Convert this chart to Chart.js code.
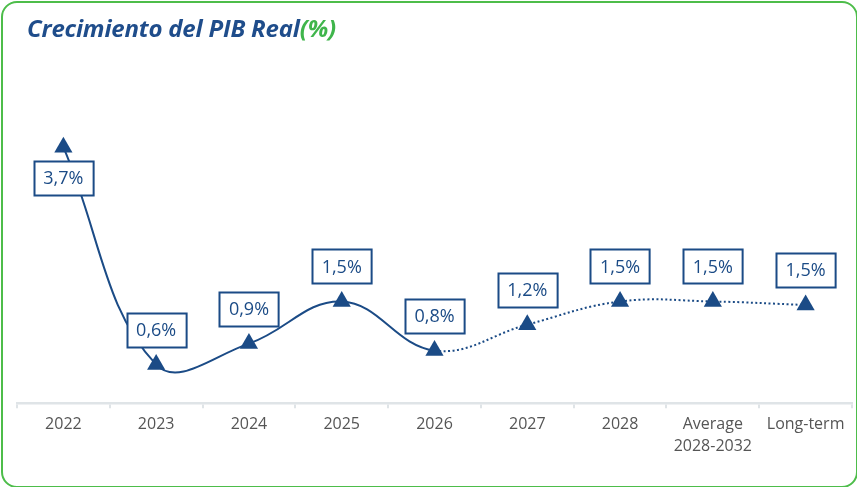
<!DOCTYPE html>
<html>
<head>
<meta charset="utf-8">
<script src="https://cdn.jsdelivr.net/npm/chart.js@4.4.1/dist/chart.umd.min.js"></script>
<style>
  html, body { margin: 0; padding: 0; background: #fff; }
  #card {
    position: absolute; left: 1px; top: 1px; width: 853px; height: 483px;
    border: 2px solid #4dbd4a; border-radius: 16px; background: #fff;
  }
  #title {
    position: absolute; left: 27px; top: 16px; line-height: 24px;
    font-family: "Open Sans", sans-serif; font-weight: 700; font-style: italic; font-size: 24px;
    color: #1f4d8b; white-space: nowrap; letter-spacing: -0.2px;
  }
  #title span { color: #3fb54b; }
  #wrap { position: absolute; left: 0; top: 0; width: 857px; height: 487px; }
</style>
</head>
<body>
<div id="card"></div>
<div id="wrap"><canvas id="c" width="857" height="487"></canvas></div>
<div id="title">Crecimiento del PIB Real<span>(%)</span></div>
<script>
const categories = ['2022', '2023', '2024', '2025', '2026', '2027', '2028', ['Average', '2028-2032'], 'Long-term'];
const growth = [3.7, 0.6, 0.9, 1.5, 0.8, 1.17, 1.5, 1.5, 1.45];
const valueLabels = ['3,7%', '0,6%', '0,9%', '1,5%', '0,8%', '1,2%', '1,5%', '1,5%', '1,5%'];
const forecastStart = 4; // segments from this index on are dotted

const navy = '#1b4b86';

const boxLabels = {
  id: 'boxLabels',
  afterDatasetsDraw(chart) {
    const ctx = chart.ctx;
    const meta = chart.getDatasetMeta(0);
    ctx.save();
    ctx.font = '18px "Open Sans", sans-serif';
    ctx.textAlign = 'center';
    ctx.textBaseline = 'middle';
    meta.data.forEach((pt, i) => {
      const txt = valueLabels[i];
      const w = ctx.measureText(txt).width + 19;
      const h = 34;
      const below = i === 0;
      const cy = below ? pt.y + 31 : pt.y - 35;
      const x0 = Math.round(pt.x - w / 2) + 0.5;
      const y0 = Math.round(cy - h / 2) + 0.5;
      ctx.fillStyle = '#fff';
      ctx.fillRect(x0, y0, w, h);
      ctx.strokeStyle = navy;
      ctx.lineWidth = 2;
      ctx.strokeRect(x0, y0, w, h);
      ctx.fillStyle = navy;
      ctx.fillText(txt, pt.x, cy + 1);
    });
    ctx.restore();
  }
};

new Chart(document.getElementById('c'), {
  type: 'line',
  data: {
    labels: categories,
    datasets: [{
      data: growth,
      borderColor: navy,
      backgroundColor: navy,
      borderWidth: 2,
      tension: 0.4,
      pointStyle: 'triangle',
      pointRadius: 10.5,
      pointHoverRadius: 10.5,
      pointBorderWidth: 0,
      clip: false,
      segment: {
        borderDash: c => c.p0DataIndex >= forecastStart ? [2, 2.5] : undefined
      }
    }]
  },
  options: {
    responsive: false,
    animation: false,
    events: [],
    layout: { autoPadding: false, padding: { left: 17, right: 5, top: 56, bottom: 24 } },
    plugins: { legend: { display: false }, tooltip: { enabled: false } },
    scales: {
      y: { display: false, min: 0.05, max: 5 },
      x: {
        offset: true,
        afterFit: s => { s.paddingLeft = 0; s.paddingRight = 0; },
        grid: { offset: true, drawOnChartArea: false, color: '#dfe4e7', lineWidth: 2, tickLength: 5 },
        border: { display: true, color: '#dfe4e7', width: 2.5 },
        ticks: { color: '#555', font: { family: '"Open Sans", sans-serif', size: 16, lineHeight: 1.4 }, padding: 5, maxRotation: 0, autoSkip: false }
      }
    }
  },
  plugins: [boxLabels]
});
</script>
</body>
</html>
